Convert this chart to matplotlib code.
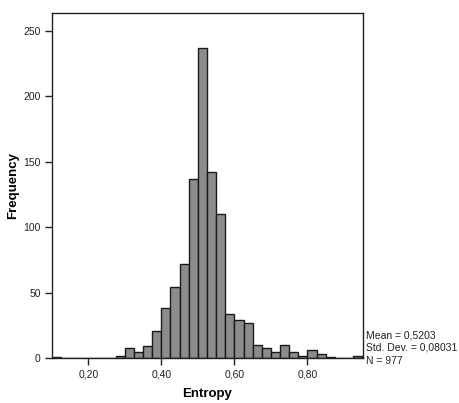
import matplotlib
matplotlib.use('Agg')
import matplotlib.pyplot as plt

plt.rcParams['font.family'] = ['Liberation Sans', 'DejaVu Sans']

# histogram bins of width 0.025 starting at 0.10
bin_start = 0.10
bin_width = 0.025
counts = [1, 0, 0, 0, 0, 0, 0, 2, 8, 5, 9, 21, 38, 54, 72, 137, 237, 142, 110,
          34, 29, 27, 10, 8, 5, 10, 5, 2, 6, 3, 1, 0, 0, 2]
xticks = [0.20, 0.40, 0.60, 0.80]
xtick_labels = ['0,20', '0,40', '0,60', '0,80']
yticks = [0, 50, 100, 150, 200, 250]
stats = ['Mean = 0,5203', 'Std. Dev. = 0,08031', 'N = 977']

lefts = [bin_start + i * bin_width for i in range(len(counts))]

fig = plt.figure(figsize=(4.6, 4.03), dpi=100)
ax = fig.add_axes([0.113, 0.111, 0.676, 0.857])

ax.bar(lefts, counts, width=bin_width, align='edge', color='#8c8c8c',
       edgecolor='#1a1a1a', linewidth=1.0)

ax.set_xlim(0.1005, 0.952)
ax.set_ylim(0, 263.5)
ax.set_xticks(xticks)
ax.set_xticklabels(xtick_labels)
ax.set_yticks(yticks)
ax.tick_params(direction='out', length=5, width=1, labelsize=7.5,
               colors='#222222', pad=3)
for s in ax.spines.values():
    s.set_color('#222222')
    s.set_linewidth(1)

ax.set_xlabel('Entropy', fontsize=9.5, fontweight='bold', labelpad=6)
ax.set_ylabel('Frequency', fontsize=9.5, fontweight='bold', labelpad=3)

fig.text(0.795, 1 - 335 / 403, stats[0], fontsize=7.5, va='center', color='#222222')
fig.text(0.795, 1 - 348 / 403, stats[1], fontsize=7.5, va='center', color='#222222')
fig.text(0.795, 1 - 361 / 403, stats[2], fontsize=7.5, va='center', color='#222222')

fig.savefig('out.png', dpi=100)
